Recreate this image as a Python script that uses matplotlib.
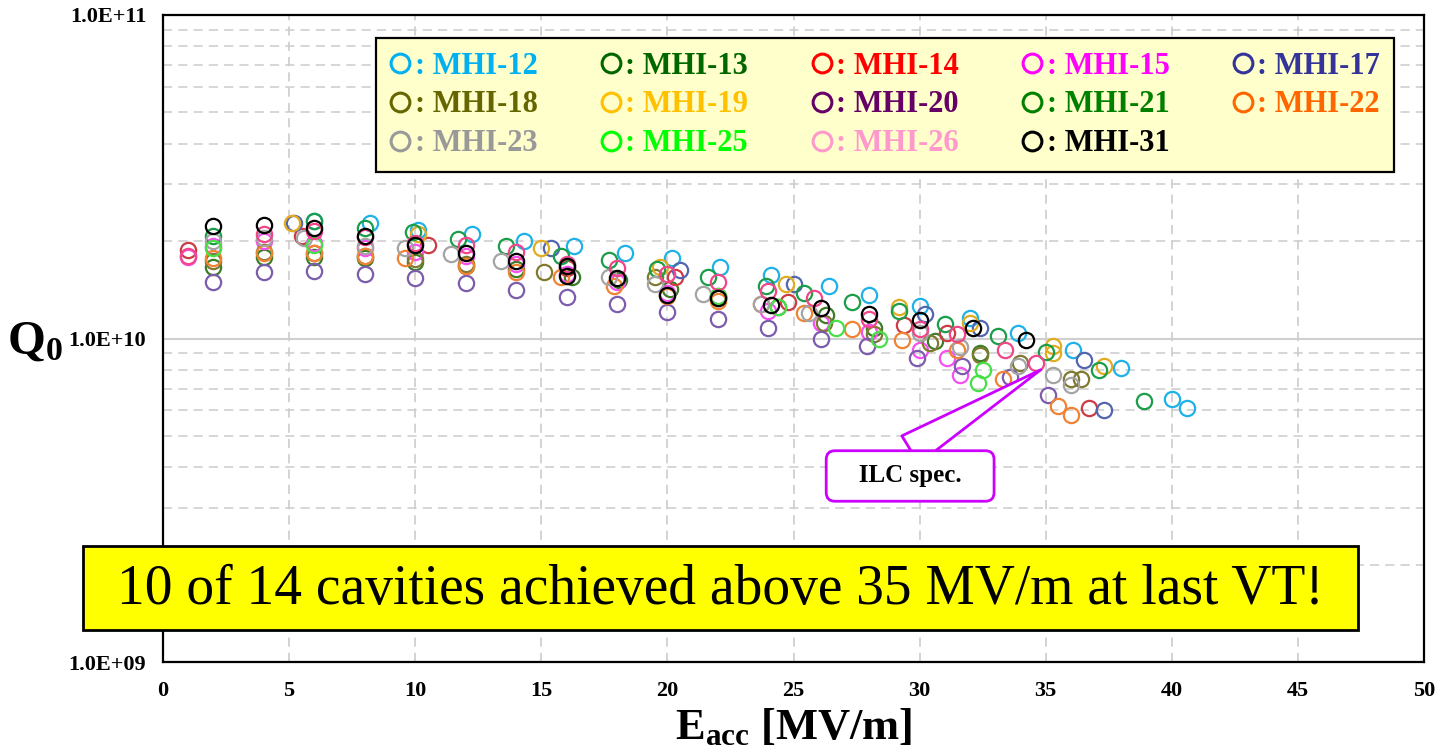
import matplotlib
matplotlib.use("Agg")
import matplotlib.pyplot as plt
from matplotlib.lines import Line2D
from matplotlib.patches import Rectangle
from matplotlib.ticker import FixedLocator, FuncFormatter, LogLocator, NullFormatter

plt.rcParams['font.family'] = ['Liberation Serif', 'DejaVu Serif']
plt.rcParams['mathtext.fontset'] = 'custom'
plt.rcParams['mathtext.rm'] = 'Liberation Serif'
plt.rcParams['mathtext.bf'] = 'Liberation Serif:bold'
plt.rcParams['mathtext.it'] = 'Liberation Serif:italic'

# ---------------- data (Eacc [MV/m], Q0 in units of 1e10) ----------------
cavities = ["MHI-12", "MHI-13", "MHI-14", "MHI-15", "MHI-17", "MHI-18", "MHI-19",
            "MHI-20", "MHI-21", "MHI-22", "MHI-23", "MHI-25", "MHI-26", "MHI-31"]

e_mhi12 = [6.0, 8.2, 10.1, 12.25, 14.3, 16.3, 18.3, 20.2, 22.1, 24.1, 26.4, 28.0, 30.0, 32.0, 33.9, 36.1, 38.0, 40.0, 40.6]
q_mhi12 = [2.30, 2.28, 2.16, 2.10, 2.00, 1.93, 1.84, 1.77, 1.66, 1.57, 1.45, 1.36, 1.26, 1.16, 1.04, 0.92, 0.81, 0.65, 0.61]

e_mhi13 = [2.0, 4.0, 6.0, 8.0, 10.0, 12.0, 14.0, 16.2, 18.1, 20.1, 22.0, 24.4, 26.3, 28.2, 30.6, 32.4]
q_mhi13 = [1.66, 1.78, 1.79, 1.77, 1.72, 1.68, 1.64, 1.55, 1.52, 1.42, 1.33, 1.25, 1.18, 1.08, 0.98, 0.90]

e_mhi14 = [1.0, 5.5, 10.5, 16.0, 20.3, 24.8, 29.4, 31.1, 36.7]
q_mhi14 = [1.88, 2.08, 1.94, 1.65, 1.55, 1.30, 1.10, 1.04, 0.61]

e_mhi15 = [1.0, 2.0, 4.0, 6.0, 8.0, 10.0, 12.0, 14.0, 16.0, 18.0, 20.0, 22.0, 24.0, 26.1, 28.0, 30.0, 31.1, 31.6]
q_mhi15 = [1.78, 1.93, 2.00, 1.98, 1.91, 1.85, 1.80, 1.70, 1.58, 1.50, 1.38, 1.35, 1.22, 1.12, 1.05, 0.92, 0.87, 0.77]

e_mhi17 = [5.2, 15.4, 20.5, 25.0, 30.2, 32.4, 36.5, 37.3]
q_mhi17 = [2.27, 1.91, 1.63, 1.47, 1.19, 1.08, 0.86, 0.60]

e_mhi18 = [2.0, 4.0, 6.0, 8.0, 10.0, 12.0, 15.1, 19.5, 22.0, 26.2, 28.2, 30.4, 32.4, 34.0, 36.0, 36.4]
q_mhi18 = [1.73, 1.85, 1.84, 1.80, 1.76, 1.70, 1.60, 1.55, 1.34, 1.12, 1.03, 0.97, 0.89, 0.84, 0.75, 0.75]

e_mhi19 = [5.1, 10.1, 15.0, 19.7, 24.7, 29.2, 32.0, 35.3, 35.3, 37.3]
q_mhi19 = [2.27, 2.10, 1.91, 1.66, 1.47, 1.25, 1.12, 0.95, 0.90, 0.82]

e_mhi20 = [2.0, 4.0, 6.0, 8.0, 10.0, 12.0, 14.0, 16.0, 18.0, 20.0, 22.0, 24.0, 26.1, 27.9, 29.9, 31.7, 33.6, 35.1]
q_mhi20 = [1.50, 1.60, 1.62, 1.58, 1.54, 1.48, 1.41, 1.34, 1.28, 1.21, 1.15, 1.08, 1.00, 0.95, 0.87, 0.82, 0.76, 0.67]

e_mhi21 = [2.0, 6.0, 8.0, 9.9, 11.7, 13.6, 15.8, 17.7, 19.6, 21.6, 23.9, 25.4, 27.3, 29.2, 31.0, 33.1, 35.0, 37.1, 38.9]
q_mhi21 = [2.08, 2.30, 2.20, 2.13, 2.03, 1.93, 1.80, 1.75, 1.64, 1.55, 1.45, 1.38, 1.30, 1.22, 1.11, 1.02, 0.91, 0.80, 0.64]

e_mhi22 = [2.0, 4.0, 6.0, 8.0, 9.6, 12.0, 14.0, 15.8, 17.9, 20.0, 22.0, 23.7, 25.4, 27.3, 29.3, 31.5, 33.3, 35.5, 36.0]
q_mhi22 = [1.77, 1.84, 1.84, 1.80, 1.77, 1.68, 1.60, 1.55, 1.45, 1.35, 1.31, 1.28, 1.20, 1.07, 0.99, 0.92, 0.75, 0.62, 0.58]

e_mhi23 = [2.0, 4.0, 5.6, 8.0, 9.6, 11.4, 13.4, 17.7, 19.5, 21.4, 23.7, 25.6, 30.0, 31.6, 33.9, 35.3, 36.0]
q_mhi23 = [2.00, 2.05, 2.05, 1.93, 1.90, 1.82, 1.73, 1.55, 1.47, 1.37, 1.28, 1.20, 1.04, 0.94, 0.82, 0.77, 0.72]

e_mhi25 = [2.0, 6.0, 22.0, 24.4, 26.7, 28.4, 32.5, 32.3]
q_mhi25 = [1.90, 1.95, 1.35, 1.25, 1.08, 1.00, 0.80, 0.73]

e_mhi26 = [1.0, 4.0, 6.0, 8.0, 10.0, 12.0, 14.0, 16.0, 18.0, 20.0, 22.0, 24.0, 25.8, 28.0, 30.0, 31.5, 33.4, 34.6]
q_mhi26 = [1.80, 2.10, 2.15, 2.06, 1.98, 1.95, 1.85, 1.70, 1.65, 1.58, 1.50, 1.40, 1.33, 1.15, 1.07, 1.03, 0.92, 0.84]

e_mhi31 = [2.0, 4.0, 6.0, 8.0, 10.0, 12.0, 14.0, 16.0, 16.0, 18.0, 20.0, 22.0, 24.1, 26.1, 28.0, 30.0, 32.1, 34.2]
q_mhi31 = [2.22, 2.25, 2.19, 2.08, 1.94, 1.84, 1.74, 1.68, 1.56, 1.54, 1.36, 1.33, 1.27, 1.24, 1.19, 1.14, 1.08, 0.99]

E_data = [e_mhi12, e_mhi13, e_mhi14, e_mhi15, e_mhi17, e_mhi18, e_mhi19,
          e_mhi20, e_mhi21, e_mhi22, e_mhi23, e_mhi25, e_mhi26, e_mhi31]
Q_data = [q_mhi12, q_mhi13, q_mhi14, q_mhi15, q_mhi17, q_mhi18, q_mhi19,
          q_mhi20, q_mhi21, q_mhi22, q_mhi23, q_mhi25, q_mhi26, q_mhi31]

legend_colors = ['#00b0f0', '#006600', '#ff0000', '#ff00ff', '#333399', '#666600', '#ffc000',
                 '#660066', '#008000', '#ff6600', '#999999', '#00ff00', '#ff99cc', '#000000']
marker_colors = ['#1fb2e8', '#3c7d28', '#cc3c44', '#f550f0', '#5466b0', '#807a30', '#e2ac22',
                 '#7c5cac', '#1a9e4a', '#f08434', '#a4a4a4', '#48e048', '#f2468a', '#000000']

# legend reading order (row-major in the picture, matplotlib fills column-major)
legend_order = [0, 5, 10, 1, 6, 11, 2, 7, 12, 3, 8, 13, 4, 9]

x_ticks = [0, 5, 10, 15, 20, 25, 30, 35, 40, 45, 50]
y_ticks = [1e9, 1e10, 1e11]
y_tick_labels = ["1.0E+09", "1.0E+10", "1.0E+11"]

# ---------------- figure ----------------
W, H = 1441, 753
fig = plt.figure(figsize=(W / 100, H / 100), dpi=100)
ax = fig.add_axes([163 / W, 1 - 662 / H, (1424 - 163) / W, (662 - 15) / H])

for e, q, c in zip(E_data, Q_data, marker_colors):
    ax.plot(e, [v * 1e10 for v in q], linestyle='none', marker='o', markersize=11,
            markerfacecolor='none', markeredgecolor=c, markeredgewidth=1.6, zorder=3)

ax.set_yscale('log')
ax.set_xlim(0, 50)
ax.set_ylim(1e9, 1e11)
ax.xaxis.set_major_locator(FixedLocator(x_ticks))
ax.yaxis.set_major_locator(FixedLocator(y_ticks))
ax.yaxis.set_major_formatter(FuncFormatter(lambda v, p: y_tick_labels[y_ticks.index(v)] if v in y_ticks else ""))
ax.yaxis.set_minor_locator(LogLocator(base=10, subs=range(2, 10)))
ax.yaxis.set_minor_formatter(NullFormatter())

ax.tick_params(axis='both', which='both', length=0)
ax.tick_params(axis='y', pad=12, labelsize=16)
ax.tick_params(axis='x', pad=14, labelsize=16)
for lab in ax.get_xticklabels() + ax.get_yticklabels():
    lab.set_fontweight('bold')

ax.grid(axis='x', which='major', color='#c8c8c8', linestyle=(0, (6, 4)), linewidth=1.1, zorder=0)
ax.grid(axis='y', which='minor', color='#cccccc', linestyle=(0, (6, 4)), linewidth=1.1, zorder=0)
ax.grid(axis='y', which='major', color='#cfcfcf', linestyle='-', linewidth=1.5, zorder=0)
for s in ax.spines.values():
    s.set_linewidth(1.6)
    s.set_color('black')

ax.set_ylabel(r"$\mathbf{Q}_{\mathbf{0}}$", fontsize=35, rotation=0, ha='center', va='center')
ax.yaxis.set_label_coords(-0.1015, 0.495)
ax.set_xlabel(r"$\mathbf{E}_{\mathbf{acc}}$" + " [MV/m]", fontsize=32, fontweight='bold', va='center')
ax.xaxis.set_label_coords(0.50, -0.102)

# ---------------- legend ----------------
handles = [Line2D([], [], linestyle='none', marker='o', markersize=13.5, markerfacecolor='none',
                  markeredgecolor=c, markeredgewidth=2.2) for c in legend_colors]
labels = [": " + name for name in cavities]
h_ord = [handles[i] for i in legend_order]
l_ord = [labels[i] for i in legend_order]
c_ord = [legend_colors[i] for i in legend_order]
leg = ax.legend(h_ord, l_ord, loc='upper left',
                bbox_to_anchor=(0.1689, 0.9645), borderaxespad=0.0, ncol=5,
                prop={'family': 'Liberation Serif', 'weight': 'bold', 'size': 22},
                handlelength=0.7, handletextpad=0.12, labelspacing=0.32, borderpad=0.45,
                columnspacing=2.05, frameon=True, fancybox=False, framealpha=1.0)
leg.get_frame().set_facecolor('#ffffcc')
leg.get_frame().set_edgecolor('black')
leg.get_frame().set_linewidth(1.6)
for t, c in zip(leg.get_texts(), c_ord):
    t.set_color(c)
leg.set_zorder(5)

# ---------------- ILC spec callout ----------------
ax.annotate("   ILC spec.   ", xy=(34.8, 0.80e10), xycoords='data',
            xytext=(0.5925, 0.2875), textcoords='axes fraction',
            ha='center', va='center', fontsize=18, fontweight='bold', zorder=6,
            bbox=dict(boxstyle='round,pad=0.55,rounding_size=0.35', fc='white', ec='#cc00ff', lw=2),
            arrowprops=dict(arrowstyle='wedge,tail_width=1.3,shrink_factor=0.5', fc='white',
                            ec='#cc00ff', lw=2, relpos=(0.33, 1.0), shrinkA=0, shrinkB=0))

# ---------------- yellow statement box ----------------
box = Rectangle((83 / W, 1 - 630 / H), (1358 - 83) / W, (630 - 546) / H, transform=fig.transFigure,
                facecolor='#ffff00', edgecolor='black', linewidth=2, zorder=10)
fig.add_artist(box)
fig.text((83 + 1358) / 2 / W, 1 - 590 / H, "10 of 14 cavities achieved above 35 MV/m at last VT!",
         fontsize=40, ha='center', va='center', zorder=11, family='Liberation Serif')

fig.savefig("out.png", dpi=100, facecolor='white')
